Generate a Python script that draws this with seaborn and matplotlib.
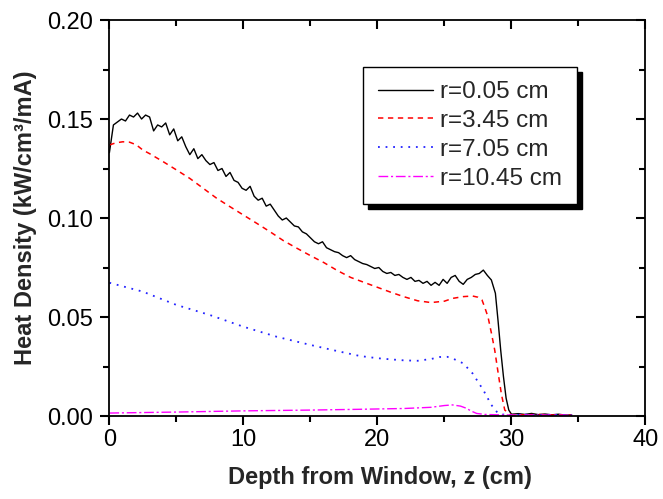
import numpy as np
import matplotlib
matplotlib.use("Agg")
import matplotlib.pyplot as plt
import matplotlib.lines as mlines
import seaborn as sns
from matplotlib.ticker import MultipleLocator, FormatStrFormatter

# ---------------- data ----------------
depth_r005 = list(np.round(np.arange(0, 28.51, 0.3), 2)) + [
    28.8, 29.0, 29.2, 29.4, 29.6, 29.8, 30.0, 30.5, 31.0, 31.5,
    32.0, 32.5, 33.0, 33.5, 34.0, 34.5]
heat_r005 = [
    0.133, 0.147, 0.1485, 0.150, 0.149, 0.152, 0.151, 0.153, 0.150, 0.152,
    0.151, 0.144, 0.147, 0.146, 0.148, 0.142, 0.145, 0.139, 0.141, 0.136,
    0.132, 0.135, 0.130, 0.132, 0.129, 0.127, 0.128, 0.124, 0.125, 0.121,
    0.123, 0.119, 0.118, 0.115, 0.114, 0.116, 0.111, 0.109, 0.110, 0.106,
    0.107, 0.104, 0.101, 0.099, 0.100, 0.098, 0.096, 0.0955, 0.093, 0.092,
    0.090, 0.088, 0.087, 0.088, 0.085, 0.084, 0.083, 0.0825, 0.081, 0.080,
    0.081, 0.079, 0.078, 0.077, 0.0765, 0.0755, 0.0745, 0.075, 0.073, 0.072,
    0.0725, 0.071, 0.0715, 0.070, 0.069, 0.070, 0.068, 0.0685, 0.067, 0.068,
    0.066, 0.0675, 0.066, 0.069, 0.067, 0.070, 0.071, 0.068, 0.0665, 0.069,
    0.070, 0.0715, 0.072, 0.0737, 0.071, 0.0687,
    0.062, 0.048, 0.033, 0.020, 0.009, 0.003, 0.0009, 0.0012, 0.0008, 0.0013,
    0.0007, 0.0010, 0.0006, 0.0009, 0.0005, 0.0005]

depth_r345 = [0, 0.5, 1, 1.5, 2, 2.5, 3, 4, 5, 6, 7, 8, 9, 10, 11, 12, 13, 14,
              15, 16, 17, 18, 19, 20, 21, 22, 23, 24, 25, 25.6, 26.4, 27.1,
              27.5, 27.8, 28.0, 28.25, 28.5, 28.75, 29.0, 29.25, 29.5, 30,
              31, 32, 33, 34, 34.5]
heat_r345 = [0.1369, 0.138, 0.1385, 0.1383, 0.137, 0.1343, 0.1325, 0.1285,
             0.1243, 0.120, 0.115, 0.110, 0.1057, 0.1015, 0.0973, 0.093,
             0.0885, 0.0847, 0.081, 0.0775, 0.0735, 0.070, 0.0675, 0.065,
             0.0625, 0.0602, 0.0582, 0.0573, 0.058, 0.0594, 0.0603, 0.0606,
             0.060, 0.0586, 0.055, 0.050, 0.042, 0.0333, 0.022, 0.011, 0.003,
             0.0005, 0.0006, 0.0008, 0.0005, 0.0006, 0.0004]

depth_r705 = [0, 2.5, 5, 7.5, 10, 12.5, 15, 17, 18.7, 20, 21, 22, 23, 24,
              24.65, 25.2, 25.6, 26.4, 27.1, 27.9, 28.5, 29, 29.5, 30, 31,
              32, 33, 34, 34.5]
heat_r705 = [0.0673, 0.0628, 0.0561, 0.051, 0.0451, 0.040, 0.0359, 0.0328,
             0.0303, 0.0292, 0.0286, 0.0281, 0.0279, 0.0288, 0.0298, 0.0299,
             0.0291, 0.0266, 0.0215, 0.0131, 0.0056, 0.0013, 0.0006, 0.0005,
             0.0007, 0.0005, 0.0006, 0.0005, 0.0004]

depth_r1045 = [0, 5, 10, 15, 18.7, 22, 24, 25, 25.6, 26.2, 26.6, 27.0, 27.4,
               28, 29, 30, 32, 34.5]
heat_r1045 = [0.0015, 0.0020, 0.0026, 0.0030, 0.0034, 0.0038, 0.0044, 0.0053,
              0.0056, 0.0050, 0.0040, 0.0025, 0.0013, 0.0008, 0.0006, 0.0005,
              0.0005, 0.0004]

series_labels = ["r=0.05 cm", "r=3.45 cm", "r=7.05 cm", "r=10.45 cm"]
x_ticks = [0, 10, 20, 30, 40]
y_ticks = [0.00, 0.05, 0.10, 0.15, 0.20]

# ---------------- style ----------------
sns.set_style("ticks", {"xtick.color": "black", "ytick.color": "black",
                        "axes.edgecolor": "black", "axes.axisbelow": False})
plt.rcParams["font.family"] = ["Liberation Sans", "DejaVu Sans"]

fig = plt.figure(figsize=(6.63, 4.99), dpi=100)
ax = fig.add_axes([0.165, 0.1663, 0.8086, 0.7936])

styles = [
    dict(color="black", lw=1.0, linestyle="-"),
    dict(color="#ff0000", lw=1.1, linestyle=(0, (3.5, 3))),
    dict(color="#2222ff", lw=1.3, linestyle=(0, (1, 3.2))),
    dict(color="#ff00ff", lw=1.0, linestyle=(0, (7, 2, 1.5, 2))),
]
data = [(depth_r005, heat_r005), (depth_r345, heat_r345),
        (depth_r705, heat_r705), (depth_r1045, heat_r1045)]

for (xs, ys), lab, st in zip(data, series_labels, styles):
    sns.lineplot(x=xs, y=ys, ax=ax, label=lab, sort=False, estimator=None,
                 color=st["color"], linewidth=st["lw"], linestyle=st["linestyle"])

ax.set_xlim(x_ticks[0], x_ticks[-1])
ax.set_ylim(y_ticks[0], y_ticks[-1])
ax.set_xticks(x_ticks)
ax.set_yticks(y_ticks)
ax.xaxis.set_minor_locator(MultipleLocator(5))
ax.yaxis.set_minor_locator(MultipleLocator(0.025))
ax.yaxis.set_major_formatter(FormatStrFormatter("%.2f"))

for s in ax.spines.values():
    s.set_visible(True)
    s.set_color("black")
    s.set_linewidth(1.3)

ax.tick_params(axis="both", which="major", direction="out", length=6.5,
               width=1.5, color="black", labelsize=17, labelcolor="black",
               top=True, right=True, labeltop=False, labelright=False)
ax.tick_params(axis="both", which="minor", direction="out", length=4,
               width=1.5, color="black", top=True, right=True)
ax.tick_params(axis="x", which="major", pad=2.5)
ax.tick_params(axis="y", which="major", pad=5.0)

ax.set_xlabel("Depth from Window, z (cm)", fontsize=17, fontweight="bold")
ax.set_ylabel("Heat Density (kW/cm³/mA)", fontsize=17, fontweight="bold")
ax.xaxis.set_label_coords(0.505, -0.125)
ax.yaxis.set_label_coords(-0.135, 0.5)

leg = ax.legend(loc="upper left", bbox_to_anchor=(0.4735, 0.882),
                borderaxespad=0, fontsize=17.5, frameon=True, fancybox=False,
                shadow={"ox": 3.6, "oy": -3.6, "color": "black", "alpha": 1.0},
                handlelength=2.26, handletextpad=0.32, labelspacing=0.28,
                borderpad=0.59)
leg.get_frame().set_edgecolor("black")
leg.get_frame().set_linewidth(1.0)
leg.get_frame().set_facecolor("white")
leg.get_frame().set_alpha(1.0)

ax.xaxis.set_zorder(3)
ax.yaxis.set_zorder(3)

# top and right frame ticks point inward (bottom/left stay outward)
fig.canvas.draw()
for axis, inward in ((ax.xaxis, mlines.TICKDOWN), (ax.yaxis, mlines.TICKLEFT)):
    for t in axis.get_major_ticks() + axis.get_minor_ticks():
        t.tick2line.set_marker(inward)
        for ln in (t.tick1line, t.tick2line):
            ln.set_clip_on(False)
            ln.set_markeredgecolor("black")
            ln.set_alpha(1.0)
        t.tick1line.set_visible(True)

fig.savefig("out.png", dpi=100)
